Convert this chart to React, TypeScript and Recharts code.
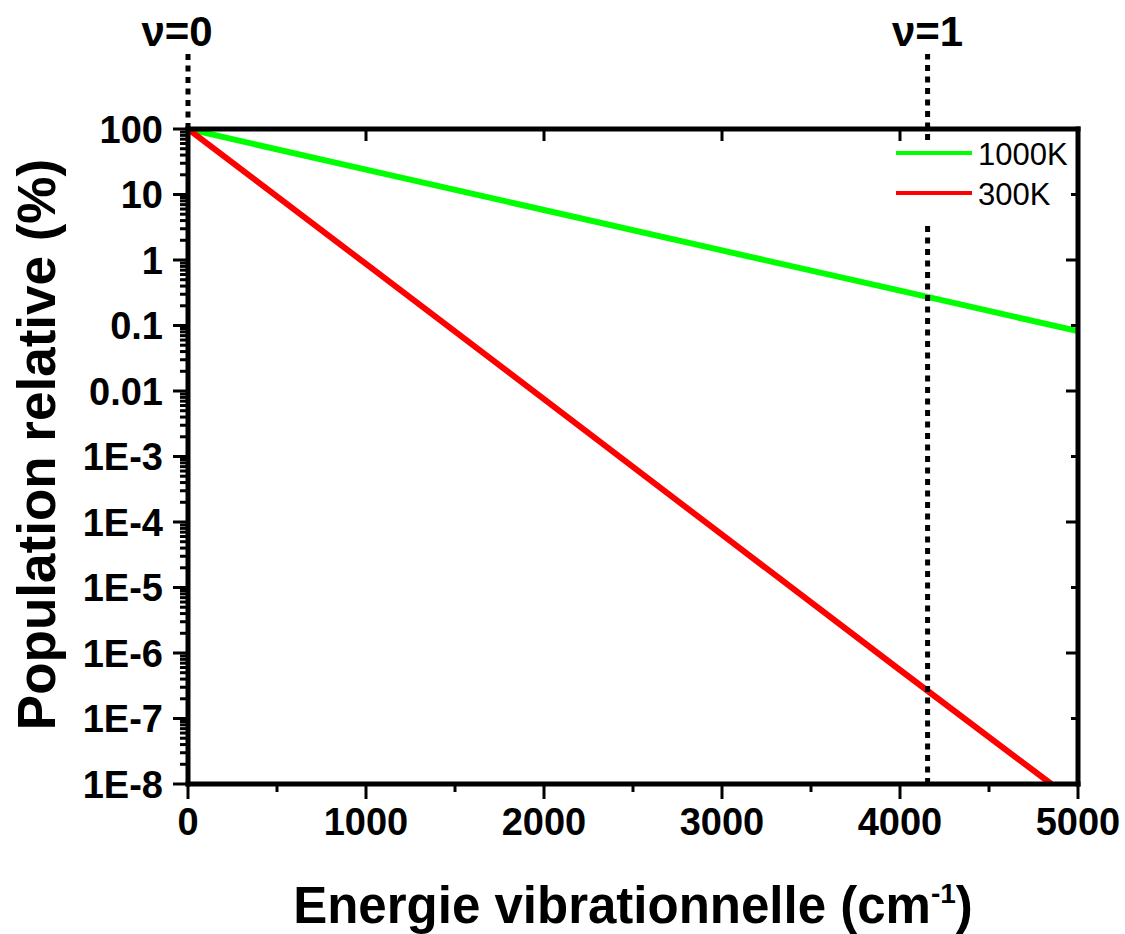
import { LineChart, Line, XAxis, YAxis, ReferenceLine, Legend } from "recharts";

// Population relative des niveaux vibrationnels (distribution de Boltzmann)
const energy1000K = [0, 1000, 2000, 3000, 4000, 5000];
const pop1000K = [100, 24, 5.8, 1.4, 0.34, 0.082];

const energy300K = [0, 1000, 2000, 3000, 4000, 4850];
const pop300K = [100, 0.87, 0.0075, 6.4e-5, 5.5e-7, 1e-8];

const seriesNames = ["1000K", "300K"];
const seriesColors = ["#00ff00", "#ff0000"];

// niveaux v=0 et v=1 (cm-1)
const vibLevels = [0, 4155];
const vibLabels = ["\u03bd=0", "\u03bd=1"];

const xMajorTicks = [0, 1000, 2000, 3000, 4000, 5000];
const xMinorTicks = [500, 1500, 2500, 3500, 4500];
const yMajorTicks = [100, 10, 1, 0.1, 0.01, 1e-3, 1e-4, 1e-5, 1e-6, 1e-7, 1e-8];
const yTickLabels = ["100", "10", "1", "0.1", "0.01", "1E-3", "1E-4", "1E-5", "1E-6", "1E-7", "1E-8"];

// graduations secondaires 2..9 de chaque décade
const yMinorTicks: number[] = [];
yMajorTicks.slice(1).forEach((d) => {
  for (let k = 2; k <= 9; k++) yMinorTicks.push(Number((d * k).toPrecision(3)));
});

const data1000K = energy1000K.map((e, i) => ({ e, p: pop1000K[i] }));
const data300K = energy300K.map((e, i) => ({ e, p: pop300K[i] }));

const FONT = '"Liberation Sans", Arial, Helvetica, sans-serif';
const LINE_TOP = 1400; // prolongement des pointillés au-dessus du cadre

const LeftTick = (props: any) => {
  const { x, y, payload } = props;
  const i = yMajorTicks.indexOf(payload.value);
  const axisX = x + 25;
  return (
    <g>
      <line x1={axisX - (i >= 0 ? 15 : 8)} x2={axisX} y1={y} y2={y} stroke="#000" strokeWidth={3} />
      {i >= 0 && (
        <text x={x} y={y} dy="0.36em" textAnchor="end" fontFamily={FONT} fontWeight="bold" fontSize={38} fill="#000">
          {yTickLabels[i]}
        </text>
      )}
    </g>
  );
};

const RightTick = (props: any) => {
  const { x, y, payload } = props;
  const i = yMajorTicks.indexOf(payload.value);
  const axisX = x + 12;
  const len = i % 2 === 0 ? 12 : 7;
  return <line x1={axisX - len} x2={axisX} y1={y} y2={y} stroke="#000" strokeWidth={3} />;
};

const BottomTick = (props: any) => {
  const { x, y, payload } = props;
  const major = xMajorTicks.includes(payload.value);
  const axisY = y - 24;
  return (
    <g>
      <line x1={x} x2={x} y1={axisY} y2={axisY + (major ? 15 : 8)} stroke="#000" strokeWidth={3} />
      {major && (
        <text x={x} y={axisY + 24} dy="0.72em" textAnchor="middle" fontFamily={FONT} fontWeight="bold" fontSize={38} fill="#000">
          {payload.value}
        </text>
      )}
    </g>
  );
};

const TopTick = (props: any) => {
  const { x, y } = props;
  const axisY = y - 12;
  return <line x1={x} x2={x} y1={axisY} y2={axisY + 12} stroke="#000" strokeWidth={3} />;
};

const YTitle = (props: any) => {
  const { viewBox } = props;
  const cx = viewBox.x - 13;
  const cy = viewBox.y + viewBox.height / 2 - 12;
  return (
    <text x={cx} y={cy} transform={`rotate(-90 ${cx} ${cy})`} textAnchor="middle" fontFamily={FONT} fontWeight="bold" fontSize={53} fill="#000">
      Population relative (%)
    </text>
  );
};

const XTitle = (props: any) => {
  const { viewBox } = props;
  return (
    <text x={viewBox.x + viewBox.width / 2} y={viewBox.y + 139} textAnchor="middle" fontFamily={FONT} fontWeight="bold" fontSize={51} fill="#000">
      <tspan>Energie vibrationnelle (cm</tspan>
      <tspan dy={-20} fontSize={28}>-1</tspan>
      <tspan dy={20}>)</tspan>
    </text>
  );
};

const LevelLabel = (text: string, dx: number) => (props: any) => {
  const { viewBox } = props;
  return (
    <text x={viewBox.x + dx} y={viewBox.y - 8} textAnchor="middle" fontFamily={FONT} fontWeight="bold" fontSize={42} fill="#000">
      {text}
    </text>
  );
};

const renderLegend = (props: any) => {
  const items = (props.payload || [])
    .filter((it: any) => seriesNames.includes(it.value))
    .sort((a: any, b: any) => seriesNames.indexOf(a.value) - seriesNames.indexOf(b.value));
  return (
    <svg width={178} height={80} style={{ display: "block", overflow: "visible" }}>
      {items.map((it: any, i: number) => (
        <g key={it.value}>
          <line x1={4} x2={80} y1={9 + i * 40} y2={9 + i * 40} stroke={it.color} strokeWidth={4} />
          <text x={86} y={21 + i * 40} fontFamily={FONT} fontSize={31} fill="#000">
            {it.value}
          </text>
        </g>
      ))}
    </svg>
  );
};

const axisLineStyle = { stroke: "#000", strokeWidth: 5, strokeLinecap: "square" as const };

export default function App() {
  return (
    <div style={{ width: 1125, height: 934, background: "#fff" }}>
      <style>{"body{margin:0;background:#fff}"}</style>
      <LineChart width={1125} height={934} margin={{ top: 129, right: 47, bottom: 0, left: 68 }}>
        <XAxis
          xAxisId="bottom"
          dataKey="e"
          type="number"
          domain={[0, 5000]}
          allowDataOverflow
          ticks={[...xMajorTicks, ...xMinorTicks]}
          interval={0}
          height={150}
          tickSize={15}
          tickMargin={9}
          tickLine={false}
          tick={BottomTick}
          axisLine={axisLineStyle}
          label={<XTitle />}
        />
        {/* axes miroirs haut et droit : épaisseur 1 px, sinon ils ne sont pas tracés */}
        <XAxis
          xAxisId="top"
          orientation="top"
          mirror
          dataKey="e"
          type="number"
          domain={[0, 5000]}
          allowDataOverflow
          ticks={xMajorTicks}
          interval={0}
          height={1}
          tickSize={12}
          tickMargin={0}
          tickLine={false}
          tick={TopTick}
          axisLine={axisLineStyle}
        />
        <YAxis
          yAxisId="left"
          scale="log"
          type="number"
          domain={[1e-8, 100]}
          allowDataOverflow
          ticks={[...yMajorTicks, ...yMinorTicks]}
          interval={0}
          width={120}
          tickSize={15}
          tickMargin={10}
          tickLine={false}
          tick={LeftTick}
          axisLine={axisLineStyle}
          label={<YTitle />}
        />
        <YAxis
          yAxisId="right"
          orientation="right"
          mirror
          scale="log"
          type="number"
          domain={[1e-8, 100]}
          allowDataOverflow
          ticks={yMajorTicks}
          interval={0}
          width={1}
          tickSize={12}
          tickMargin={0}
          tickLine={false}
          tick={RightTick}
          axisLine={axisLineStyle}
        />
        {/* série invisible rattachée aux axes haut/droit */}
        <Line
          xAxisId="top"
          yAxisId="right"
          data={data1000K}
          dataKey="p"
          name="cadre"
          stroke="none"
          legendType="none"
          dot={false}
          activeDot={false}
          isAnimationActive={false}
        />
        <Line
          xAxisId="bottom"
          yAxisId="left"
          data={data1000K}
          dataKey="p"
          name={seriesNames[0]}
          type="linear"
          stroke={seriesColors[0]}
          strokeWidth={6}
          dot={false}
          isAnimationActive={false}
        />
        <Line
          xAxisId="bottom"
          yAxisId="left"
          data={data300K}
          dataKey="p"
          name={seriesNames[1]}
          type="linear"
          stroke={seriesColors[1]}
          strokeWidth={6}
          dot={false}
          isAnimationActive={false}
        />
        <ReferenceLine
          xAxisId="bottom"
          yAxisId="left"
          segment={[{ x: vibLevels[0], y: 100 }, { x: vibLevels[0], y: LINE_TOP }]}
          ifOverflow="visible"
          stroke="#000"
          strokeWidth={5}
          strokeDasharray="6 5.5"
          label={LevelLabel(vibLabels[0], -11)}
        />
        <ReferenceLine
          xAxisId="bottom"
          yAxisId="left"
          segment={[{ x: vibLevels[1], y: 1e-8 }, { x: vibLevels[1], y: LINE_TOP }]}
          ifOverflow="visible"
          stroke="#000"
          strokeWidth={5}
          strokeDasharray="6 5.5"
          label={LevelLabel(vibLabels[1], 0)}
        />
        <Legend
          layout="horizontal"
          verticalAlign="middle"
          align="center"
          content={renderLegend}
          wrapperStyle={{ position: "absolute", left: 892, top: 144, width: 178, height: 80, background: "#fff" }}
        />
      </LineChart>
    </div>
  );
}
